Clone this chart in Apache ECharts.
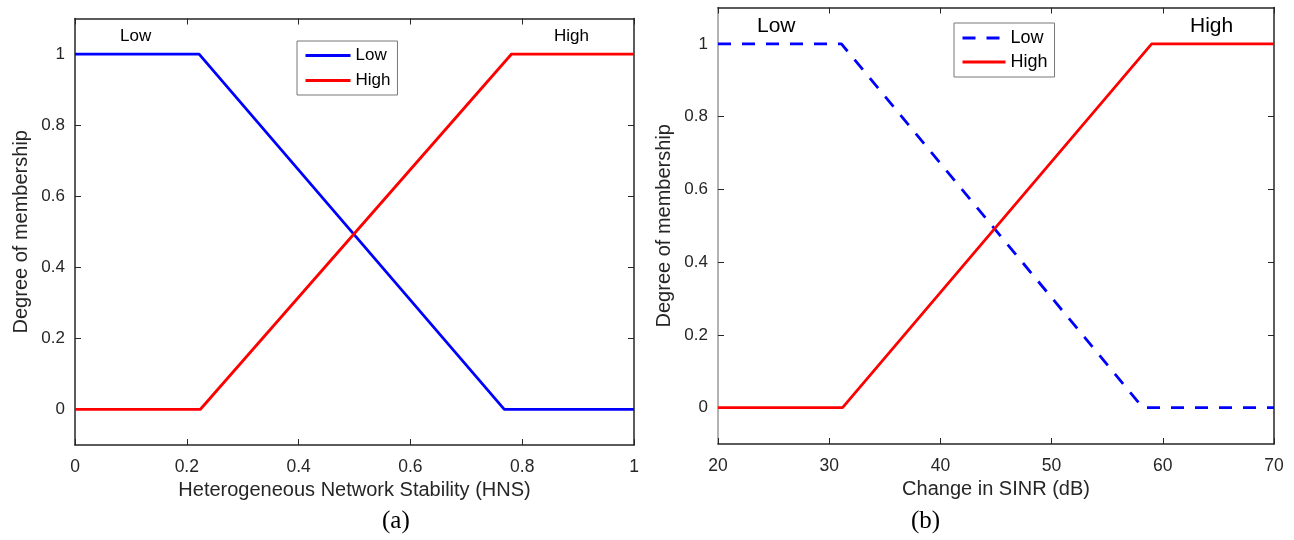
<!DOCTYPE html>
<html>
<head>
<meta charset="utf-8">
<script src="https://cdn.jsdelivr.net/npm/echarts@6/dist/echarts.min.js"></script>
<style>html,body{margin:0;padding:0;background:#fff;}#c{width:1294px;height:540px;}</style>
</head>
<body>
<div id="c"></div>
<script>
// Panel (a): Heterogeneous Network Stability
const hnsLowX = [0, 0.222, 0.768, 1];
const hnsLowY = [1, 1, 0, 0];
const hnsHighX = [0, 0.224, 0.781, 1];
const hnsHighY = [0, 0, 1, 1];
// Panel (b): Change in SINR (dB)
const sinrLowX = [20, 31.1, 58.2, 70];
const sinrLowY = [1, 1, 0, 0];
const sinrHighX = [20, 31.2, 59, 70];
const sinrHighY = [0, 0, 1, 1];
const yTicks = [0, 0.2, 0.4, 0.6, 0.8, 1];
const hnsTicks = [0, 0.2, 0.4, 0.6, 0.8, 1];
const sinrTicks = [20, 30, 40, 50, 60, 70];

const FONT = 'Arial, "Liberation Sans", sans-serif';
const pts = (xs, ys) => xs.map((x, i) => [x, ys[i]]);

const chart = echarts.init(document.getElementById('c'), null, {renderer: 'canvas'});

function xAxisBase(gi, min, max, interval, name, pos, show) {
  return {
    gridIndex: gi, type: 'value', min: min, max: max, interval: interval,
    position: pos,
    name: show ? name : '', nameLocation: 'middle', nameGap: 31,
    nameTextStyle: {fontFamily: FONT, fontSize: 20, color: '#262626'},
    axisLine: {show: true, onZero: false, lineStyle: {color: '#262626', width: 1.5}},
    axisTick: {show: true, inside: true, length: 6, lineStyle: {color: '#262626'}},
    axisLabel: {show: show, fontFamily: FONT, fontSize: 17.5, color: '#262626', margin: 13,
      formatter: v => String(+v.toFixed(2))},
    splitLine: {show: false}
  };
}
function yAxisBase(gi, pos, show, lineColor) {
  return {
    gridIndex: gi, type: 'value', min: -0.1, max: 1.1, position: pos,
    name: show ? 'Degree of membership' : '', nameLocation: 'middle', nameGap: 44,
    nameTextStyle: {fontFamily: FONT, fontSize: 20, color: '#262626'},
    axisLine: {show: true, onZero: false, lineStyle: {color: lineColor, width: 1.5}},
    axisTick: {show: true, inside: true, length: 6, customValues: yTicks, lineStyle: {color: '#262626'}},
    axisLabel: {show: show, fontFamily: FONT, fontSize: 17, color: '#262626', margin: 10,
      customValues: yTicks, formatter: v => String(+v.toFixed(2))},
    splitLine: {show: false}
  };
}

const legendCommon = {
  orient: 'vertical', borderColor: '#777', borderWidth: 1, padding: [6, 7, 6, 7],
  itemHeight: 14, backgroundColor: '#fff',
  itemStyle: {opacity: 0},
  lineStyle: {width: 3}
};

const option = {
  backgroundColor: '#fff',
  animation: false,
  grid: [
    {left: 75, top: 18.5, width: 559, height: 426.5},
    {left: 718, top: 7.5, width: 556, height: 436.5}
  ],
  xAxis: [
    xAxisBase(0, 0, 1, 0.2, 'Heterogeneous Network Stability (HNS)', 'bottom', true),
    xAxisBase(0, 0, 1, 0.2, '', 'top', false),
    xAxisBase(1, 20, 70, 10, 'Change in SINR (dB)', 'bottom', true),
    xAxisBase(1, 20, 70, 10, '', 'top', false)
  ],
  yAxis: [
    yAxisBase(0, 'left', true, '#262626'),
    yAxisBase(0, 'right', false, '#262626'),
    yAxisBase(1, 'left', true, '#9a9a9a'),
    yAxisBase(1, 'right', false, '#262626')
  ],
  legend: [
    Object.assign({}, legendCommon, {
      data: ['Low', 'High'], left: 297, top: 41, itemWidth: 45, itemGap: 8,
      textStyle: {fontFamily: FONT, fontSize: 17, color: '#000', lineHeight: 17}
    }),
    Object.assign({}, legendCommon, {
      data: ['Low (b)', 'High (b)'], left: 954, top: 23, itemWidth: 43, itemGap: 6,
      formatter: n => n.split(' ')[0],
      textStyle: {fontFamily: FONT, fontSize: 18, color: '#000', lineHeight: 18}
    })
  ],
  series: [
    {name: 'Low', type: 'line', xAxisIndex: 0, yAxisIndex: 0, data: pts(hnsLowX, hnsLowY),
      symbol: 'none', showSymbol: false, lineStyle: {color: '#0000ff', width: 2.8}, itemStyle: {color: '#0000ff'}},
    {name: 'High', type: 'line', xAxisIndex: 0, yAxisIndex: 0, data: pts(hnsHighX, hnsHighY),
      symbol: 'none', showSymbol: false, lineStyle: {color: '#ff0000', width: 2.8}, itemStyle: {color: '#ff0000'}},
    {name: 'Low (b)', type: 'line', xAxisIndex: 2, yAxisIndex: 2, data: pts(sinrLowX, sinrLowY),
      symbol: 'none', showSymbol: false, lineStyle: {color: '#0000ff', width: 2.8, type: [13, 11]}, itemStyle: {color: '#0000ff'}},
    {name: 'High (b)', type: 'line', xAxisIndex: 2, yAxisIndex: 2, data: pts(sinrHighX, sinrHighY),
      symbol: 'none', showSymbol: false, lineStyle: {color: '#ff0000', width: 2.8}, itemStyle: {color: '#ff0000'}}
  ],
  graphic: [
    {type: 'text', left: 120, top: 28, style: {text: 'Low', font: '17px ' + FONT, fill: '#000'}},
    {type: 'text', left: 554, top: 28, style: {text: 'High', font: '17px ' + FONT, fill: '#000'}},
    {type: 'text', left: 757, top: 16, style: {text: 'Low', font: '21px ' + FONT, fill: '#000'}},
    {type: 'text', left: 1190, top: 16, style: {text: 'High', font: '21px ' + FONT, fill: '#000'}},
    {type: 'text', left: 382, top: 509, style: {text: '(a)', font: '25px "Liberation Serif", "Times New Roman", serif', fill: '#000'}},
    {type: 'text', left: 911, top: 509, style: {text: '(b)', font: '25px "Liberation Serif", "Times New Roman", serif', fill: '#000'}}
  ]
};
chart.setOption(option);
</script>
</body>
</html>
